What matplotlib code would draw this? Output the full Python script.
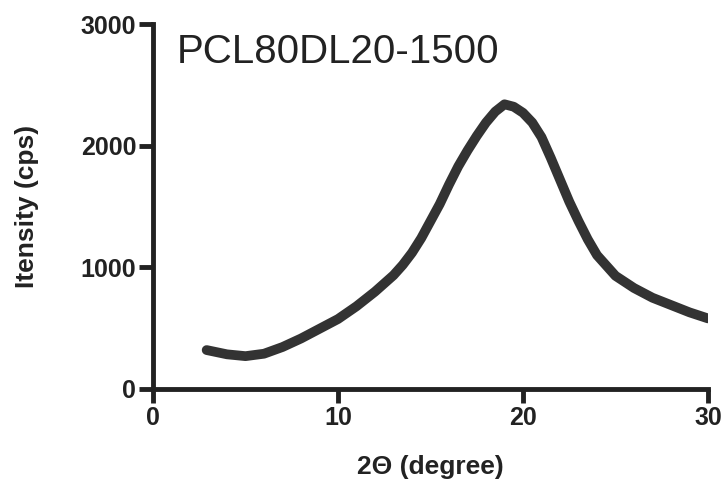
import matplotlib
matplotlib.use('Agg')
import matplotlib.pyplot as plt

# values
two_theta = [2.9, 4, 5, 6, 7, 8, 9, 10, 11, 12, 13, 13.5, 14, 14.5, 15, 15.5,
             16, 16.5, 17, 17.5, 18, 18.5, 19, 19.5, 20, 20.5, 21, 21.5, 22,
             22.5, 23, 23.5, 24, 25, 26, 27, 28, 29, 30]
intensity = [320, 285, 270, 290, 345, 415, 495, 575, 680, 800, 935, 1020,
             1120, 1240, 1380, 1520, 1680, 1830, 1960, 2080, 2190, 2280,
             2340, 2320, 2270, 2190, 2070, 1900, 1720, 1540, 1380, 1230,
             1100, 930, 830, 750, 690, 630, 580]
x_ticks = [0, 10, 20, 30]
y_ticks = [0, 1000, 2000, 3000]
sample_name = 'PCL80DL20-1500'

plt.rcParams['font.family'] = ['Liberation Sans', 'DejaVu Sans']
ink = '#222222'

fig = plt.figure(figsize=(7.27, 4.84), dpi=100)
ax = fig.add_axes([153/727, 1 - 389/484, (708 - 153)/727, (389 - 24)/484])

ax.plot(two_theta, intensity, color='#333333', lw=7, solid_capstyle='round',
        solid_joinstyle='round')

ax.set_xlim(0, 30)
ax.set_ylim(0, 3000)
ax.set_xticks(x_ticks)
ax.set_yticks(y_ticks)
for s in ['top', 'right']:
    ax.spines[s].set_visible(False)
for s in ['left', 'bottom']:
    ax.spines[s].set_linewidth(3.5)
    ax.spines[s].set_color(ink)
    ax.spines[s].set_capstyle('projecting')
ax.tick_params(width=3.5, length=10, color=ink, pad=2,
               labelsize=18, labelcolor=ink)
for lab in ax.get_xticklabels() + ax.get_yticklabels():
    lab.set_fontweight('bold')

ax.set_xlabel('2\u0398 (degree)', fontsize=19, fontweight='bold', color=ink, labelpad=18)
ax.set_ylabel('Itensity (cps)', fontsize=19, fontweight='bold', color=ink, labelpad=30)

fig.text(177/727, 1 - 63/484, sample_name, fontsize=29, color=ink, va='baseline')

fig.savefig('out.png', dpi=100)
